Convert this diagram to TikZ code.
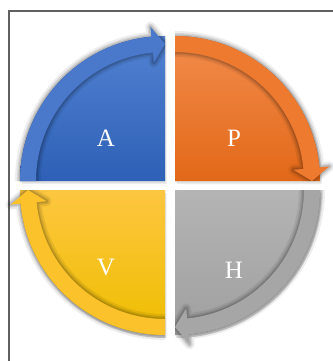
\documentclass[tikz,border=0pt]{standalone}
\usepackage{fontspec}
\setmainfont{Liberation Serif}
\usetikzlibrary{calc}
\definecolor{frameC}{HTML}{606060}
\definecolor{blueT}{HTML}{5282D2}
\definecolor{blueB}{HTML}{2D60B6}
\definecolor{blueA}{HTML}{4A79CB}
\definecolor{orT}{HTML}{F28C4C}
\definecolor{orB}{HTML}{E26818}
\definecolor{orA}{HTML}{EE7A30}
\definecolor{grT}{HTML}{B4B4B4}
\definecolor{grB}{HTML}{A0A0A0}
\definecolor{grA}{HTML}{A6A6A6}
\definecolor{yeT}{HTML}{FDC640}
\definecolor{yeB}{HTML}{EEBE00}
\definecolor{yeA}{HTML}{FCC22C}
\tikzset{
  letter/.style={text=white, font=\fontsize{25}{25}\selectfont, inner sep=0pt},
  frameline/.style={draw=frameC, line width=1.6pt},
  halo/.style={draw=black, line join=round},
}
% band path relative to current corner, #1 start angle
\newcommand\bandpath[1]{(#1:145pt) arc[start angle=#1, end angle=#1-84.6, radius=145pt]
      -- (#1-84.6:155pt) -- (#1-90:137pt) -- (#1-84.6:119pt) -- (#1-84.6:129pt)
      arc[start angle=#1-84.6, end angle=#1, radius=129pt] -- cycle}
% #1 corner, #2 start angle, #3 top colour, #4 bottom colour, #5 arrow colour
\newcommand\quadpiece[5]{%
  \begin{scope}[shift={#1}]
    \fill[black, opacity=0.08] (1.5pt,-3pt) -- ++(#2:145pt) arc[start angle=#2, end angle=#2-90, radius=145pt] -- cycle;
    \fill[black, opacity=0.06] (0.5pt,-1.5pt) -- ++(#2:146.5pt) arc[start angle=#2, end angle=#2-90, radius=146.5pt] -- cycle;
    \shade[top color=#3, bottom color=#4] (0,0) -- (#2:145pt) arc[start angle=#2, end angle=#2-90, radius=145pt] -- cycle;
    \begin{scope}
      \clip (0,0) -- (#2:170pt) arc[start angle=#2, end angle=#2-90, radius=170pt] -- cycle;
      \draw[halo, opacity=0.07, line width=10pt] \bandpath{#2};
      \draw[halo, opacity=0.10, line width=6pt] \bandpath{#2};
      \draw[halo, opacity=0.12, line width=3pt] \bandpath{#2};
    \end{scope}
    \fill[#5] \bandpath{#2};
  \end{scope}}
\begin{document}
\begin{tikzpicture}[x=1pt, y=1pt]
  \useasboundingbox (0,0) rectangle (332,-361);
  \fill[white] (0,0) rectangle (332,-361);
  \draw[frameline] (9,-11) rectangle (350,-380);
  \quadpiece{(165,-181)}{180}{blueT}{blueB}{blueA}
  \quadpiece{(175,-181)}{90}{orT}{orB}{orA}
  \quadpiece{(175,-190)}{0}{grT}{grB}{grA}
  \quadpiece{(165,-190)}{270}{yeT}{yeB}{yeA}
  \node[letter] (a) at (106,-138) {A};
  \node[letter] (p) at (234,-138) {P};
  \node[letter] (v) at (106,-268) {V};
  \node[letter] (h) at (234,-270) {H};
\end{tikzpicture}
\end{document}
